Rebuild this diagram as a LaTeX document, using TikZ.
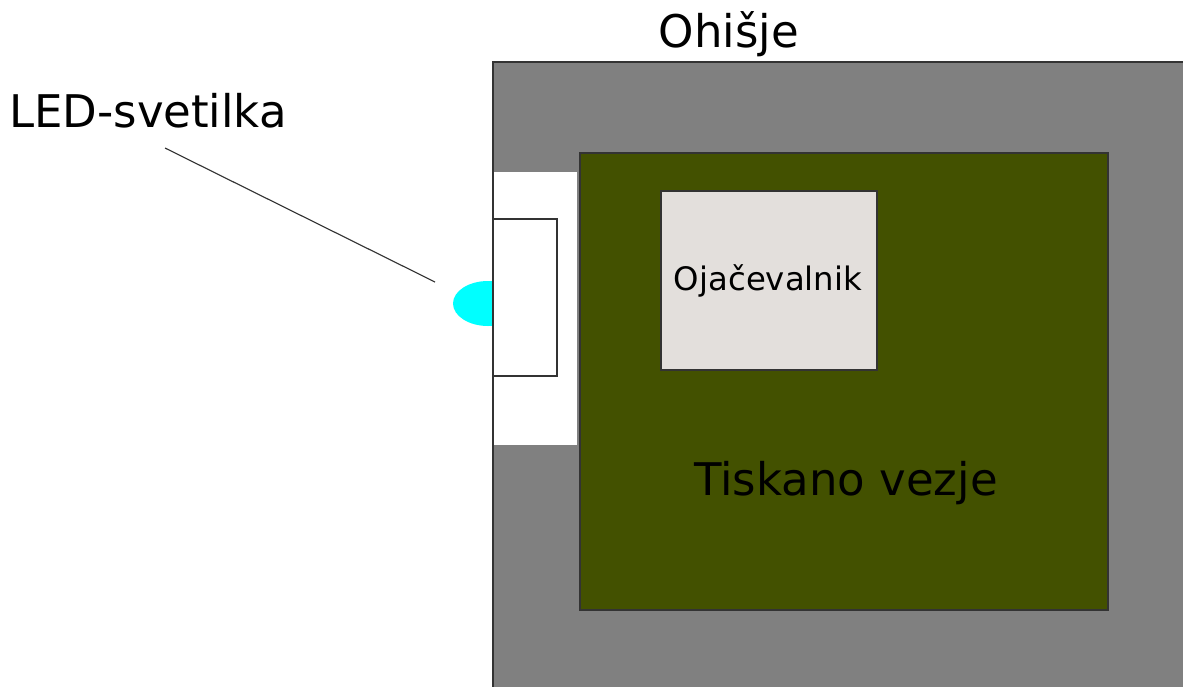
\documentclass[tikz,border=0pt]{standalone}
\usepackage{fontspec}
\setmainfont{DejaVu Sans}
\usepackage{tikz}
\usetikzlibrary{positioning}
\definecolor{ohisje}{HTML}{808080}
\definecolor{vezje}{HTML}{435100}
\definecolor{ojac}{HTML}{E3DFDC}
\definecolor{led}{HTML}{00FFFF}
\tikzset{
  rob/.style={draw=black!80,line width=0.8pt},
  napis/.style={font=\fontsize{32}{38}\selectfont,anchor=base},
  manjsi/.style={font=\fontsize{23}{28}\selectfont,anchor=base}
}

\begin{document}
\begin{tikzpicture}[x=0.025cm,y=-0.025cm]
%\draw [help lines] (0,0) grid (1183,686);
\useasboundingbox (0,0) rectangle (1183,686);
\clip (0,0) rectangle (1183,686);
\fill [white] (0,0) rectangle (1183,686);
\draw [rob,fill=ohisje] (493,62) rectangle (1200,700); \node [napis] (ohisje) at (729,47) {Ohišje};
\fill [led] (488,303.5) ellipse (35 and 22.5);
\fill [white] (493,172) rectangle (577,445); \draw [rob] (493,62) -- (493,700);
\draw [rob,fill=white] (493,219) rectangle (557,376);
\draw [rob,fill=vezje] (580,153) rectangle (1108,610); \node [napis] (vezje) at (846,495) {Tiskano vezje};
\draw [rob,fill=ojac] (661,191) rectangle (877,370); \node [manjsi] (ojac) at (768,290) {Ojačevalnik};
\node [napis] (led) at (148,127) {LED-svetilka}; \coordinate (ledzac) at (165,148); \coordinate (ledkon) at (435,282);
\draw [black!80,line width=0.8pt] (ledzac) -- (ledkon);
\end{tikzpicture}
\end{document}
